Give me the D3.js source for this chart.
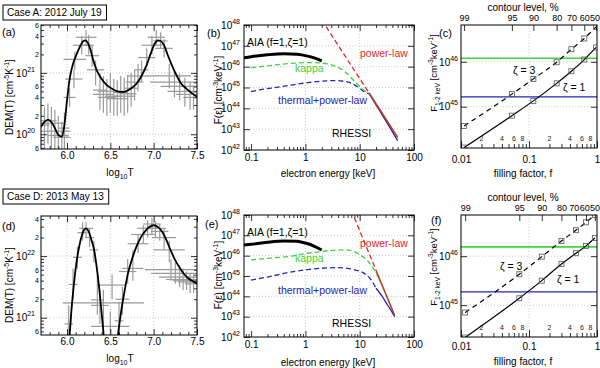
<!DOCTYPE html>
<html><head><meta charset="utf-8">
<script src="https://d3js.org/d3.v7.min.js"></script>
<style>html,body{margin:0;padding:0;background:#fff;}svg{display:block;}</style>
</head><body>
<svg id="chart" width="600" height="368" xmlns="http://www.w3.org/2000/svg"></svg>
<script>
// ================= DATA =================
const caseLabels = ["Case A: 2012 July 19", "Case D: 2013 May 13"];
const panelLabels = ["(a)", "(b)", "(c)", "(d)", "(e)", "(f)"];

// tick labels
const demXTicks = [6.0, 6.5, 7.0, 7.5];
const energyTicks = [0.1, 1, 10, 100];
const fillTicks = [0.01, 0.1, 1];
const fillMinorLabels = [2, 4, 6, 8];
const contourLevels = ["99", "95", "90", "80", "70", "60", "50"];

// (a) DEM fit curve: log10 T, log10 DEM [cm^-5 K^-1]
const demA_logT   = [5.70,5.74,5.78,5.82,5.86,5.90,5.94,5.97,6.00,6.03,6.07,6.11,6.15,6.19,6.21,6.24,6.27,6.30,6.35,6.40,6.46,6.52,6.58,6.65,6.72,6.80,6.86,6.92,6.97,7.01,7.05,7.08,7.12,7.16,7.20,7.26,7.31,7.38,7.44,7.50];
const demA_logDEM = [20.12,20.20,20.24,20.20,20.10,19.99,19.96,20.15,20.55,20.90,21.15,21.30,21.43,21.52,21.53,21.49,21.38,21.22,21.02,20.90,20.80,20.74,20.70,20.69,20.73,20.82,20.95,21.13,21.33,21.47,21.53,21.52,21.45,21.30,21.16,20.97,20.84,20.74,20.67,20.61];
// (a) error bars: [log10 T, half-width log10 T, log10 DEM, low, high]
const errA = [
 [5.74,0.06,20.15,19.70,20.45],[5.78,0.10,20.22,19.85,20.50],[5.82,0.14,20.18,19.75,20.45],
 [5.86,0.18,20.05,19.70,20.40],[5.90,0.12,19.98,19.70,20.30],[5.94,0.10,19.95,19.70,20.20],
 [5.97,0.06,20.10,19.75,20.35],[6.03,0.07,20.60,20.45,20.75],[6.08,0.10,20.90,20.75,21.05],
 [6.09,0.13,21.22,21.05,21.35],[6.17,0.10,21.45,21.30,21.60],[6.22,0.12,21.58,21.45,21.70],
 [6.25,0.06,21.45,21.30,21.62],[6.29,0.08,21.28,21.10,21.45],[6.33,0.10,21.05,20.80,21.20],
 [6.38,0.08,20.72,20.40,21.00],[6.42,0.12,20.65,20.35,20.95],[6.46,0.10,20.60,20.30,20.90],
 [6.50,0.14,20.70,20.35,21.00],[6.54,0.10,20.62,20.30,20.90],[6.58,0.12,20.58,20.30,20.88],
 [6.62,0.08,20.68,20.35,20.95],[6.66,0.12,20.62,20.30,20.92],[6.70,0.10,20.66,20.35,20.97],
 [6.74,0.08,20.75,20.45,21.00],[6.78,0.10,20.85,20.55,21.05],[6.82,0.12,20.95,20.70,21.15],
 [6.86,0.08,21.05,20.85,21.20],[6.92,0.10,21.25,21.10,21.40],[6.98,0.12,21.45,21.30,21.60],
 [7.03,0.10,21.58,21.45,21.70],[7.08,0.08,21.52,21.40,21.66],[7.12,0.10,21.40,21.25,21.55],
 [7.18,0.25,20.95,20.75,21.15],[7.24,0.28,20.85,20.60,21.05],[7.30,0.22,20.78,20.55,20.98],
 [7.36,0.20,20.70,20.45,20.92],[7.42,0.16,20.65,20.40,20.85],[7.46,0.12,20.60,20.40,20.80]
];

// (d) DEM fit curve, two branches
const demD1_logT   = [6.00,6.02,6.05,6.08,6.11,6.14,6.17,6.20,6.22,6.25,6.28,6.31,6.34,6.37,6.40,6.43,6.45];
const demD1_logDEM = [20.10,20.50,21.10,21.55,21.90,22.15,22.33,22.43,22.45,22.40,22.27,22.12,21.85,21.50,21.07,20.60,20.20];
const demD2_logT   = [6.55,6.57,6.60,6.63,6.66,6.70,6.75,6.80,6.85,6.90,6.95,7.00,7.05,7.10,7.15,7.20,7.25,7.30,7.35,7.40,7.45,7.50];
const demD2_logDEM = [20.15,20.50,20.85,21.15,21.40,21.70,21.95,22.15,22.30,22.40,22.47,22.50,22.47,22.39,22.25,22.08,21.93,21.81,21.71,21.64,21.59,21.55];
const errD = [
 [6.02,0.05,20.90,20.60,21.20],[6.07,0.05,21.54,21.30,21.80],[6.12,0.05,21.98,21.80,22.15],
 [6.18,0.06,22.38,22.25,22.55],[6.22,0.08,22.45,22.30,22.55],[6.26,0.05,22.30,22.15,22.45],
 [6.31,0.05,22.10,21.90,22.25],[6.35,0.07,21.29,21.05,21.70],[6.38,0.10,21.20,20.90,21.45],
 [6.42,0.47,21.24,20.60,21.45],[6.50,0.22,20.86,20.60,21.10],[6.52,0.16,21.53,21.30,21.70],
 [6.60,0.05,20.95,20.60,21.25],[6.64,0.08,21.30,21.05,21.50],[6.70,0.10,21.75,21.55,21.95],
 [6.76,0.12,21.80,21.60,22.10],[6.82,0.12,22.20,22.05,22.35],[6.88,0.14,22.35,22.20,22.50],
 [6.93,0.12,22.45,22.30,22.58],[6.98,0.10,22.52,22.35,22.62],[7.02,0.12,22.45,22.30,22.57],
 [7.07,0.10,22.40,22.25,22.52],[7.12,0.14,22.30,22.10,22.45],[7.18,0.18,22.10,21.90,22.25],
 [7.20,0.30,21.78,21.60,21.95],[7.25,0.28,21.72,21.55,21.90],[7.30,0.24,21.66,21.50,21.85],
 [7.34,0.20,21.62,21.45,21.80],[7.38,0.16,21.60,21.45,21.75],[7.42,0.14,21.58,21.40,21.72],
 [7.46,0.10,21.55,21.40,21.70]
];

// (b) electron spectra: energy [keV], log10 F [cm^-3 keV^-1]
const bAiaE = [0.074,0.1,0.2,0.4,0.7,1.0,1.5,2.0];
const bAiaLogF = [46.43,46.48,46.57,46.62,46.60,46.53,46.41,46.28];
const bKapE = [0.1,0.15,0.27,0.5,1.0,1.5,2.0,3.5,5.0,6.2,8.0,9.4,12.3,15];
const bKapLogF = [45.95,46.00,46.08,46.15,46.19,46.19,46.17,46.03,45.82,45.60,45.30,45.12,44.85,44.74];
const bThE = [0.1,0.15,0.27,0.5,1.1,2.0,3.5,5.0,7.1,10,12,15];
const bThLogF = [44.80,44.90,44.99,45.10,45.23,45.30,45.33,45.30,45.20,44.96,44.80,44.70];
const bPlE = [2.0,15];
const bPlLogF = [48.24,44.72];
const bFitE = [15,20,30,40,50];
const bFitPlLogF = [44.72,44.21,43.50,42.99,42.60];
const bFitKapLogF = [44.74,44.24,43.53,43.02,42.63];
const bFitThLogF = [44.70,44.17,43.42,42.88,42.45];

// (e) electron spectra
const eAiaE = [0.074,0.1,0.2,0.4,0.7,1.0,1.5,2.0];
const eAiaLogF = [46.52,46.56,46.66,46.72,46.71,46.62,46.45,46.28];
const eKapE = [0.1,0.2,0.56,1,2,4,6,8,10,14,17,20];
const eKapLogF = [45.79,45.87,45.98,46.10,46.20,46.28,46.27,46.20,46.05,45.75,45.45,45.18];
const eThE = [0.1,0.2,0.56,1,2,4,6,8,10.7,14,18,20];
const eThLogF = [44.80,44.95,45.20,45.30,45.38,45.41,45.38,45.30,45.21,45.00,44.62,44.40];
const ePlE = [7.0,20];
const ePlLogF = [48.23,45.28];
const eFitE = [20,26,33,40,44];
const eFitPlLogF = [45.28,44.54,43.87,43.33,43.06];
const eFitKapLogF = [45.18,44.50,43.86,43.34,43.08];
const eFitThLogF = [44.40,44.00,43.55,43.20,43.00];

// (c) F(1-2 keV) vs filling factor
const cFill = [0.0111,0.056,0.116,0.255,0.42,0.65,0.97];
const cZeta1LogF = [44.09,44.80,45.13,45.52,45.79,46.05,46.32];
const cZeta3LogF = [44.57,45.28,45.62,45.99,46.28,46.52,46.78];
const cKappaLogF = 46.08;
const cThermLogF = 45.22;
// (f)
const fFill = [0.0115,0.072,0.154,0.30,0.49,0.69,0.93];
const fZeta1LogF = [44.34,45.14,45.50,45.84,46.06,46.21,46.37];
const fZeta3LogF = [44.85,45.63,45.99,46.31,46.53,46.69,46.84];
const fKappaLogF = 46.19;
const fThermLogF = 45.27;

// ================= DRAWING =================
const FONT = '"Liberation Sans", Arial, Helvetica, sans-serif';
const RED = '#e3262b', GREEN = '#3ad83a', BLUE = '#2424b8';
const svg = d3.select('#chart').attr('font-family', FONT);
svg.append('rect').attr('width', 600).attr('height', 368).attr('fill', '#fff');
const P = v => Math.pow(10, v);

let clipN = 0;
function clip(b) {
  const id = 'cp' + (clipN++);
  svg.append('clipPath').attr('id', id).append('rect')
    .attr('x', b.x0).attr('y', b.y0).attr('width', b.x1 - b.x0).attr('height', b.y1 - b.y0);
  return 'url(#' + id + ')';
}
function axis(fn, scale, vals, len, fmt, tx, ty, fs, pad) {
  const a = fn(scale).tickValues(vals).tickSizeInner(-len).tickSizeOuter(0)
    .tickPadding(pad == null ? 3 : pad).tickFormat(fmt || (() => ''));
  const g = svg.append('g').attr('transform', 'translate(' + tx + ',' + ty + ')').call(a);
  g.select('.domain').remove();
  g.attr('font-family', FONT).attr('font-size', fs || 10);
  g.selectAll('.tick line').attr('stroke', '#000').attr('stroke-width', 0.8);
  g.selectAll('.tick text').attr('fill', '#000');
  return g;
}
function supTicks(g, fn, fs) {
  g.selectAll('.tick text').each(function (d) {
    const t = d3.select(this); const p = fn(d); t.text(null);
    t.append('tspan').text(p[0]);
    t.append('tspan').attr('dy', -5).attr('font-size', fs || 7).text(p[1]);
  });
}
function logMinor(lo, hi) {
  const out = [];
  for (let e = Math.floor(lo); e <= Math.ceil(hi); e++)
    for (let m = 2; m <= 9; m++) {
      const l = Math.log10(m) + e;
      if (l >= lo - 1e-9 && l <= hi + 1e-9) out.push(m * Math.pow(10, e));
    }
  return out;
}
function mant(d) { return Math.round(d / Math.pow(10, Math.floor(Math.log10(d) + 1e-9))); }
function rich(x, y, parts, o) {
  o = o || {}; const fs = o.fs || 10;
  const t = svg.append('text').attr('x', x).attr('y', y).attr('font-size', fs)
    .attr('text-anchor', o.anchor || 'middle').attr('fill', o.fill || '#000');
  if (o.rot) t.attr('transform', 'rotate(-90,' + x + ',' + y + ')');
  let cur = 0;
  parts.forEach(p => {
    const off = p[1] === 'sup' ? -fs * 0.45 : p[1] === 'sub' ? fs * 0.3 : 0;
    const s = t.append('tspan').attr('dy', off - cur).text(p[0]);
    if (p[1]) s.attr('font-size', fs * 0.7);
    cur = off;
  });
  return t;
}
function label(x, y, txt, o) {
  o = o || {};
  return svg.append('text').attr('x', x).attr('y', y).attr('font-size', o.fs || 10)
    .attr('text-anchor', o.anchor || 'start').attr('fill', o.fill || '#000').text(txt);
}
function frame(b) {
  svg.append('rect').attr('x', b.x0).attr('y', b.y0).attr('width', b.x1 - b.x0).attr('height', b.y1 - b.y0)
    .attr('fill', 'none').attr('stroke', '#000').attr('stroke-width', 1);
}
function grid(xs, ys, xv, yv, b) {
  const g = svg.append('g').attr('stroke', '#b4b4b4').attr('stroke-width', 0.7).attr('stroke-dasharray', '1,2');
  g.selectAll('.gx').data(xv).join('line').attr('class', 'gx')
    .attr('x1', d => xs(d)).attr('x2', d => xs(d)).attr('y1', b.y0).attr('y2', b.y1);
  g.selectAll('.gy').data(yv).join('line').attr('class', 'gy')
    .attr('y1', d => ys(d)).attr('y2', d => ys(d)).attr('x1', b.x0).attr('x2', b.x1);
}

// ---------- DEM panels ----------
function demPanel(b, yDom, yMaj, curves, errs) {
  const x = d3.scaleLinear().domain([5.7, 7.5]).range([b.x0, b.x1]);
  const y = d3.scaleLog().domain([P(yDom[0]), P(yDom[1])]).range([b.y1, b.y0]);
  grid(x, y, [6.0, 6.5, 7.0], yMaj, b);
  const cp = clip(b);
  const eg = svg.append('g').attr('clip-path', cp).attr('stroke', '#9a9a9a').attr('stroke-width', 1.2);
  eg.selectAll('.eh').data(errs).join('line').attr('class', 'eh')
    .attr('x1', d => x(d[0] - d[1])).attr('x2', d => x(d[0] + d[1]))
    .attr('y1', d => y(P(d[2]))).attr('y2', d => y(P(d[2])));
  eg.selectAll('.ev').data(errs).join('line').attr('class', 'ev')
    .attr('x1', d => x(d[0])).attr('x2', d => x(d[0]))
    .attr('y1', d => y(P(d[3]))).attr('y2', d => y(P(d[4])));
  const line = d3.line().x(d => x(d[0])).y(d => y(P(d[1]))).curve(d3.curveMonotoneX);
  const cg = svg.append('g').attr('clip-path', cp);
  curves.forEach(c => cg.append('path').attr('d', line(d3.zip(c[0], c[1])))
    .attr('fill', 'none').attr('stroke', '#000').attr('stroke-width', 1.8));
  const xMinor = d3.range(58, 75).map(v => v / 10).filter(v => Math.round(v * 10) % 5 !== 0);
  axis(d3.axisBottom, x, demXTicks, 6, d3.format('.1f'), 0, b.y1, 10, 3);
  axis(d3.axisBottom, x, xMinor, 3, null, 0, b.y1);
  axis(d3.axisTop, x, demXTicks, 6, null, 0, b.y0);
  axis(d3.axisTop, x, xMinor, 3, null, 0, b.y0);
  const gl = axis(d3.axisLeft, y, yMaj, 6, () => '', b.x0, 0, 10, 6);
  supTicks(gl, d => ['10', String(Math.round(Math.log10(d)))], 7);
  const minV = logMinor(yDom[0], yDom[1]);
  axis(d3.axisLeft, y, minV, 3, d => { const m = mant(d); return (m === 2 || m === 4 || m === 6) ? String(m) : ''; }, b.x0, 0, 7, 2);
  axis(d3.axisRight, y, yMaj, 6, null, b.x1, 0);
  axis(d3.axisRight, y, minV, 3, null, b.x1, 0);
  frame(b);
}

// ---------- spectrum panels ----------
function specPanel(b, s) {
  const x = d3.scaleLog().domain([0.074, 100]).range([b.x0, b.x1]);
  const y = d3.scaleLog().domain([1e42, 1e48]).range([b.y1, b.y0]);
  grid(x, y, [1, 10], [1e43, 1e44, 1e45, 1e46, 1e47], b);
  const cp = clip(b);
  const g = svg.append('g').attr('clip-path', cp);
  const line = d3.line().x(p => x(p[0])).y(p => y(P(p[1]))).curve(d3.curveMonotoneX);
  const path = (E, F, color, w, dash) => {
    const p = g.append('path').attr('d', line(d3.zip(E, F))).attr('fill', 'none')
      .attr('stroke', color).attr('stroke-width', w);
    if (dash) p.attr('stroke-dasharray', dash);
  };
  path(s.thE, s.thF, BLUE, 1.3, '5,3');
  path(s.kapE, s.kapF, GREEN, 1.3, '5,3');
  path(s.plE, s.plF, RED, 1.3, '5,3');
  path(s.fitE, s.fitKap, GREEN, 1.3);
  path(s.fitE, s.fitTh, BLUE, 1.3);
  path(s.fitE, s.fitPl, RED, 1.3);
  path(s.aiaE, s.aiaF, '#000', 3);
  const xMinor = logMinor(Math.log10(0.074), 2);
  const ym = [1e42, 1e43, 1e44, 1e45, 1e46, 1e47, 1e48];
  axis(d3.axisBottom, x, energyTicks, 6, d => String(d), 0, b.y1, 10, 4);
  axis(d3.axisBottom, x, xMinor, 3, null, 0, b.y1);
  axis(d3.axisTop, x, energyTicks, 6, null, 0, b.y0);
  axis(d3.axisTop, x, xMinor, 3, null, 0, b.y0);
  const gl = axis(d3.axisLeft, y, ym, 6, () => '', b.x0, 0, 10, 4);
  supTicks(gl, d => ['10', String(Math.round(Math.log10(d)))], 7);
  axis(d3.axisRight, y, ym, 6, null, b.x1, 0);
  frame(b);
  const dy = b.y0 - 25;
  label(247, 46 + dy, 'AIA (f=1,ζ=1)', { fs: 10.5 });
  label(295, 72 + dy, 'kappa', { fs: 10.5, fill: GREEN });
  label(278, 104 + dy, 'thermal+power-law', { fs: 10.5, fill: BLUE });
  label(360, 57 + dy, 'power-law', { fs: 10.5, fill: RED });
  label(332, 137 + dy, 'RHESSI', { fs: 10.5 });
}

// ---------- filling-factor panels ----------
function fillPanel(b, yDom, fill, z1, z3, kap, th, pad) {
  const x = d3.scaleLog().domain([0.01, 1]).range([b.x0, b.x1]);
  const y = d3.scaleLog().domain([P(yDom[0]), P(yDom[1])]).range([b.y1, b.y0]);
  grid(x, y, [0.1], [1e45, 1e46], b);
  const cp = clip(b);
  const g = svg.append('g').attr('clip-path', cp);
  g.append('line').attr('x1', x(0.01)).attr('x2', x(1)).attr('y1', y(P(kap))).attr('y2', y(P(kap)))
    .attr('stroke', GREEN).attr('stroke-width', 1.6);
  g.append('line').attr('x1', x(0.01)).attr('x2', x(1)).attr('y1', y(P(th))).attr('y2', y(P(th)))
    .attr('stroke', BLUE).attr('stroke-width', 1.3);
  const line = d3.line().x(p => x(p[0])).y(p => y(P(p[1]))).curve(d3.curveMonotoneX);
  g.append('path').attr('d', line(d3.zip(fill, z1))).attr('fill', 'none').attr('stroke', '#000').attr('stroke-width', 1.2);
  g.append('path').attr('d', line(d3.zip(fill, z3))).attr('fill', 'none').attr('stroke', '#000')
    .attr('stroke-width', 1.2).attr('stroke-dasharray', '5,4');
  [z1, z3].forEach(z => {
    g.selectAll(null).data(d3.zip(fill, z)).join('rect')
      .attr('x', p => x(p[0]) - 2.5).attr('y', p => y(P(p[1])) - 2.5).attr('width', 5).attr('height', 5)
      .attr('fill', 'none').attr('stroke', '#555').attr('stroke-width', 0.8);
  });
  const xMinor = logMinor(-2, 0);
  axis(d3.axisBottom, x, fillTicks, 7, d => String(d), 0, b.y1, 10, pad);
  axis(d3.axisBottom, x, xMinor, 4, null, 0, b.y1);
  svg.append('g').selectAll('text').data(xMinor.filter(v => fillMinorLabels.includes(mant(v)))).join('text')
    .attr('x', d => x(d)).attr('y', b.y1 - 7).attr('text-anchor', 'middle').attr('font-size', 7)
    .attr('fill', '#222').text(d => String(mant(d)));
  const gt = axis(d3.axisTop, x, fill, 6, (d, i) => contourLevels[i], 0, b.y0, 9, 4);
  // crowded labels near the right edge are packed side by side (as in the original)
  const nodes = gt.selectAll('.tick text').nodes();
  let limit = 599.5;
  for (let i = nodes.length - 1; i >= 0; i--) {
    const n = nodes[i]; const c = x(fill[i]); const w = n.getComputedTextLength();
    const cx = Math.min(c, limit - w / 2);
    d3.select(n).attr('dx', cx - c);
    limit = cx - w / 2 - 0.3;
  }
  const ym = [1e45, 1e46];
  const gl = axis(d3.axisLeft, y, ym, 6, () => '', b.x0, 0, 10, 3);
  supTicks(gl, d => ['10', String(Math.round(Math.log10(d)))], 7);
  axis(d3.axisRight, y, ym, 6, null, b.x1, 0);
  frame(b);
}

// ---------- layout ----------
const bA = { x0: 41, x1: 197, y0: 25, y1: 149 };
const bB = { x0: 244, x1: 414, y0: 25, y1: 150 };
const bC = { x0: 461, x1: 597, y0: 25, y1: 148 };
const bD = { x0: 41, x1: 197, y0: 216, y1: 335 };
const bE = { x0: 244, x1: 414, y0: 215, y1: 337 };
const bF = { x0: 461, x1: 597, y0: 215, y1: 337 };

demPanel(bA, [19.76, 21.78], [1e20, 1e21], [[demA_logT, demA_logDEM]], errA);
demPanel(bD, [20.72, 22.65], [1e21, 1e22], [[demD1_logT, demD1_logDEM], [demD2_logT, demD2_logDEM]], errD);

specPanel(bB, { aiaE: bAiaE, aiaF: bAiaLogF, kapE: bKapE, kapF: bKapLogF, thE: bThE, thF: bThLogF,
  plE: bPlE, plF: bPlLogF, fitE: bFitE, fitPl: bFitPlLogF, fitKap: bFitKapLogF, fitTh: bFitThLogF });
specPanel(bE, { aiaE: eAiaE, aiaF: eAiaLogF, kapE: eKapE, kapF: eKapLogF, thE: eThE, thF: eThLogF,
  plE: ePlE, plF: ePlLogF, fitE: eFitE, fitPl: eFitPlLogF, fitKap: eFitKapLogF, fitTh: eFitThLogF });

fillPanel(bC, [44.08, 46.82], cFill, cZeta1LogF, cZeta3LogF, cKappaLogF, cThermLogF, 8);
fillPanel(bF, [44.35, 46.84], fFill, fZeta1LogF, fZeta3LogF, fKappaLogF, fThermLogF, 6);

// case boxes
[[caseLabels[0], 5], [caseLabels[1], 189]].forEach(([t, yy]) => {
  const tx = label(7, yy + 11, t, { fs: 10 });
  const w = tx.node().getComputedTextLength();
  svg.append('rect').attr('x', 3).attr('y', yy).attr('width', w + 9).attr('height', 15)
    .attr('fill', 'none').attr('stroke', '#000').attr('stroke-width', 1);
});

// panel labels
label(2, 36, panelLabels[0], { fs: 11 });
label(207, 37, panelLabels[1], { fs: 11 });
label(439, 37, panelLabels[2], { fs: 11 });
label(2, 230, panelLabels[3], { fs: 11 });
label(205, 228, panelLabels[4], { fs: 11 });
label(431, 224, panelLabels[5], { fs: 11 });

// axis titles
const logT = [['log'], ['10', 'sub'], ['T']];
rich(120, 176, logT, { fs: 10 });
rich(120, 362, logT, { fs: 10 });
const demY = [['DEM(T) [cm'], ['-5', 'sup'], ['K'], ['-1', 'sup'], [']']];
rich(13, 97, demY, { rot: true });
rich(13, 285, demY, { rot: true });
rich(328, 177, [['electron energy [keV]']], {});
rich(328, 366, [['electron energy [keV]']], {});
const specY = [['F(ε) [cm'], ['-3', 'sup'], ['keV'], ['-1', 'sup'], [']']];
rich(222, 90, specY, { rot: true });
rich(222, 275, specY, { rot: true });
rich(523, 177, [['filling factor, f']], {});
rich(523, 365, [['filling factor, f']], {});
rich(523, 11, [['contour level, %']], {});
rich(523, 201, [['contour level, %']], {});
const fillY = [['F'], ['1-2 keV', 'sub'], [' [cm'], ['-3', 'sup'], ['keV'], ['-1', 'sup'], [']']];
rich(437, 73, fillY, { rot: true, fs: 9.5 });
rich(437, 267, fillY, { rot: true, fs: 9.5 });

// zeta labels
label(513, 74, 'ζ = 3', { fs: 10.5 });
label(563, 91, 'ζ = 1', { fs: 10.5 });
label(500, 270, 'ζ = 3', { fs: 10.5 });
label(557, 283, 'ζ = 1', { fs: 10.5 });
</script>
</body></html>
